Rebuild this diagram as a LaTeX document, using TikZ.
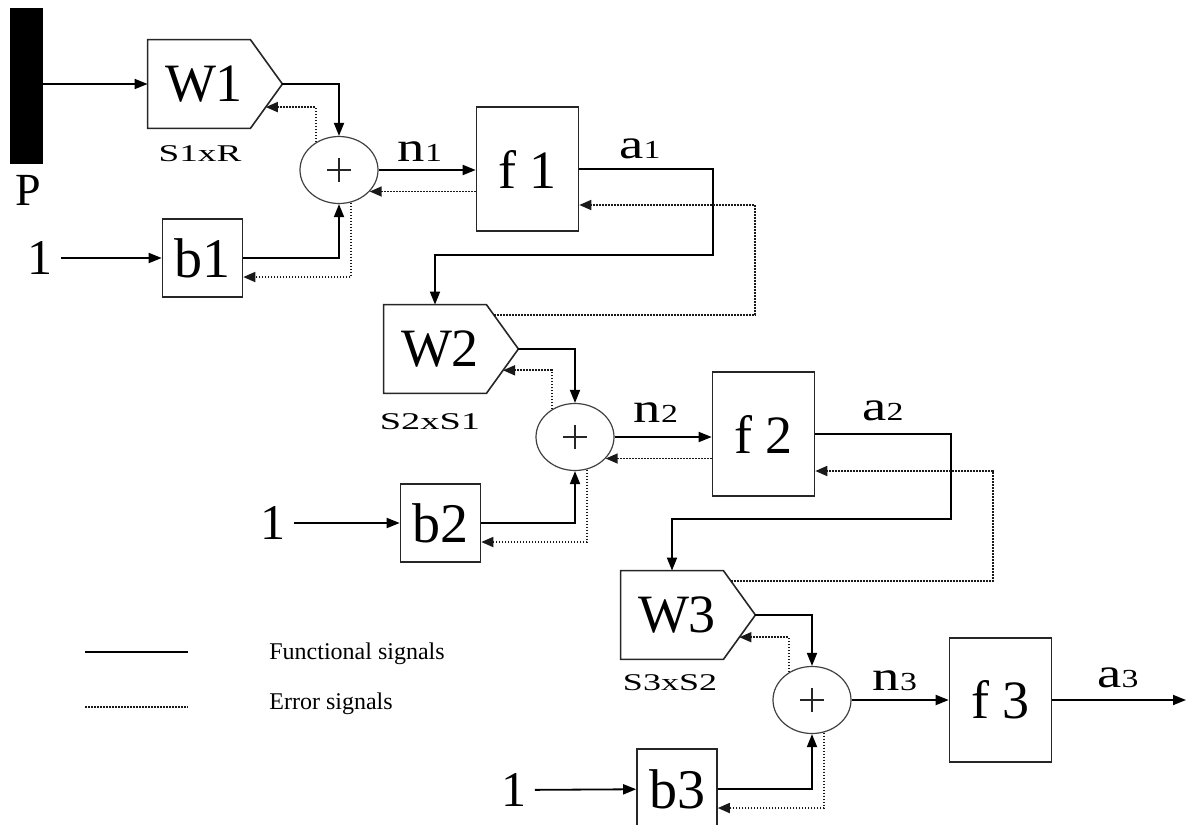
\documentclass[tikz,border=0pt]{standalone}
\usepackage{fontspec}
\setmainfont{Liberation Serif}
\usetikzlibrary{arrows.meta,calc,shapes.geometric}
% horizontally widened text
\newcommand{\widetext}[2]{\scalebox{#1}[1]{#2}}
\begin{document}
\begin{tikzpicture}[x=0.5pt,y=-0.5pt,
  fun/.style={line width=0.9pt, draw=black},
  funa/.style={fun, -{Triangle[length=6.5pt,width=5pt]}},
  err/.style={line width=0.85pt, dash pattern=on 0.9pt off 0.6pt, draw=black!90},
  erra/.style={err, -{Triangle[length=6pt,width=5pt]}},
  blk/.style={draw=black!85, line width=0.8pt, inner sep=0pt},
  wbox/.style={inner sep=0pt, minimum width=51pt, minimum height=44pt, font=\fontsize{27}{27}\selectfont},
  bbox/.style={blk, minimum width=40pt, minimum height=39pt, font=\fontsize{28}{28}\selectfont},
  fbox/.style={blk, minimum width=51pt, minimum height=62pt, font=\fontsize{27}{27}\selectfont},
  sum/.style={ellipse, draw=black!75, line width=0.6pt, minimum width=39pt, minimum height=33.5pt, inner sep=0pt,
    path picture={
      \draw[line width=0.55pt, black!85] ($(path picture bounding box.center)+(-12,0)$) -- ($(path picture bounding box.center)+(12,0)$)
        ($(path picture bounding box.center)+(0,-12)$) -- ($(path picture bounding box.center)+(0,12)$);
    }},
  one/.style={font=\fontsize{25}{25}\selectfont, inner sep=4pt},
  sig/.style={font=\fontsize{21}{21}\selectfont, inner sep=0pt},
  dimlab/.style={font=\fontsize{12}{12}\selectfont, inner sep=0pt},
  legtext/.style={font=\fontsize{12}{12}\selectfont, anchor=west, inner sep=0pt}
]
\useasboundingbox (0,0) rectangle (1190,825);

% input vector
\node[fill=black, minimum width=16.5pt, minimum height=78pt, inner sep=0pt] (P) at (26.5,86) {};
\node[font=\fontsize{23}{23}\selectfont, inner sep=0pt] (Plab) at (28,190) {P};

% ---- layer 1 ----
\node[wbox] (W1) at (199,84) {\hspace{5pt}W1};
\node[dimlab] (d1) at (200,154) {\widetext{1.55}{S1xR}};
\node[sum] (S1) at (339,170) {};
\node[bbox] (b1) at (202.5,258) {b1};
\node[one] (in1) at (40,258) {1};
\node[fbox] (f1) at (527.5,169) {f 1};
\node[sig] (n1) at (420,152) {\widetext{1.3}{n{\fontsize{13}{13}\selectfont 1}}};
\node[sig] (a1) at (640,149) {\widetext{1.3}{a{\fontsize{13}{13}\selectfont 1}}};

% ---- layer 2 ----
\node[wbox] (W2) at (435,349) {\hspace{5pt}W2};
\node[dimlab] (d2) at (430,422) {\widetext{1.6}{S2xS1}};
\node[sum] (S2) at (575,437) {};
\node[bbox] (b2) at (440.5,523) {b2};
\node[one] (in2) at (273,523) {1};
\node[fbox] (f2) at (763.5,434) {f 2};
\node[sig] (n2) at (656,413) {\widetext{1.3}{n{\fontsize{13}{13}\selectfont 2}}};
\node[sig] (a2) at (883,411) {\widetext{1.3}{a{\fontsize{13}{13}\selectfont 2}}};

% ---- layer 3 ----
\node[wbox] (W3) at (672,615) {\hspace{5pt}W3};
\node[dimlab] (d3) at (670,683) {\widetext{1.5}{S3xS2}};
\node[sum] (S3) at (812,700) {};
\node[bbox, minimum height=40pt] (b3) at (677,789) {b3};
\node[one] (in3) at (514,790) {1};
\node[fbox] (f3) at (1000.5,700) {f 3};
\node[sig] (n3) at (895,681) {\widetext{1.3}{n{\fontsize{13}{13}\selectfont 3}}};
\node[sig] (a3) at (1118,678) {\widetext{1.3}{a{\fontsize{13}{13}\selectfont 3}}};
\coordinate (out3) at (1186,700);

% pentagon outlines of the weight blocks
\foreach \wn in {W1,W2,W3} {
  \coordinate (\wn-tip) at ($(\wn.east)+(32,0)$);
  \draw[blk] (\wn.north west) -- (\wn.north east) -- (\wn-tip) -- (\wn.south east) -- (\wn.south west) -- cycle;
}
\coordinate (W1-lo) at ($(W1-tip)!0.52!(W1.south east)$);
\coordinate (W2-lo) at ($(W2-tip)!0.48!(W2.south east)$);
\coordinate (W3-lo) at ($(W3-tip)!0.5!(W3.south east)$);
\coordinate (W2-up) at ($(W2.north east)!0.23!(W2-tip)$);
\coordinate (W3-up) at ($(W3.north east)!0.23!(W3-tip)$);

% bends of the layer-to-layer wiring
\coordinate (k1) at (713,255);
\coordinate (e1) at (755,205);
\coordinate (k2) at (951,519);
\coordinate (e2) at (993,471);

% ---- functional signals ----
\draw[funa] (P.east |- W1.west) -- (W1.west);
\draw[funa] (W1-tip) -| (S1.north);
\draw[funa] (in1) -- (b1);
\draw[funa] (b1.east) -| (S1.south);
\draw[funa] (S1.east) -- (S1.east -| f1.west);
\draw[funa] (f1.east) -| (k1) -| (W2.north);

\draw[funa] (W2-tip) -| (S2.north);
\draw[funa] (in2) -- (b2);
\draw[funa] (b2.east) -| (S2.south);
\draw[funa] (S2.east) -- (S2.east -| f2.west);
\draw[funa] (f2.east) -| (k2) -| (W3.north);

\draw[funa] (W3-tip) -| (S3.north);
\draw[funa] (in3) -- (b3);
\draw[funa] (b3.east) -| (S3.south);
\draw[funa] (S3) -- (f3);
\draw[funa] (f3.east) -- (out3);

% ---- error signals ----
\draw[erra] (S1.130) |- (W1-lo);
\draw[erra] (S1.-70) |- (b1.-25);
\draw[erra] (f1.west |- S1.-35) -- (S1.-35);
\draw[erra] (W2-up) -| (e1) -- (e1 -| f1.east);

\draw[erra] (S2.130) |- (W2-lo);
\draw[erra] (S2.-70) |- (b2.-25);
\draw[erra] (f2.west |- S2.-35) -- (S2.-35);
\draw[erra] (W3-up) -| (e2) -- (e2 -| f2.east);

\draw[erra] (S3.130) |- (W3-lo);
\draw[erra] (S3.-70) |- (b3.-25);

% ---- legend ----
\coordinate (lf0) at (85,652);
\coordinate (lf1) at (188,652);
\coordinate (le0) at (85,707);
\coordinate (le1) at (188,707);
\draw[fun] (lf0) -- (lf1);
\draw[err] (le0) -- (le1);
\node[legtext] (lfun) at (269,654) {Functional signals};
\node[legtext] (lerr) at (269,704) {Error signals};
\end{tikzpicture}
\end{document}
